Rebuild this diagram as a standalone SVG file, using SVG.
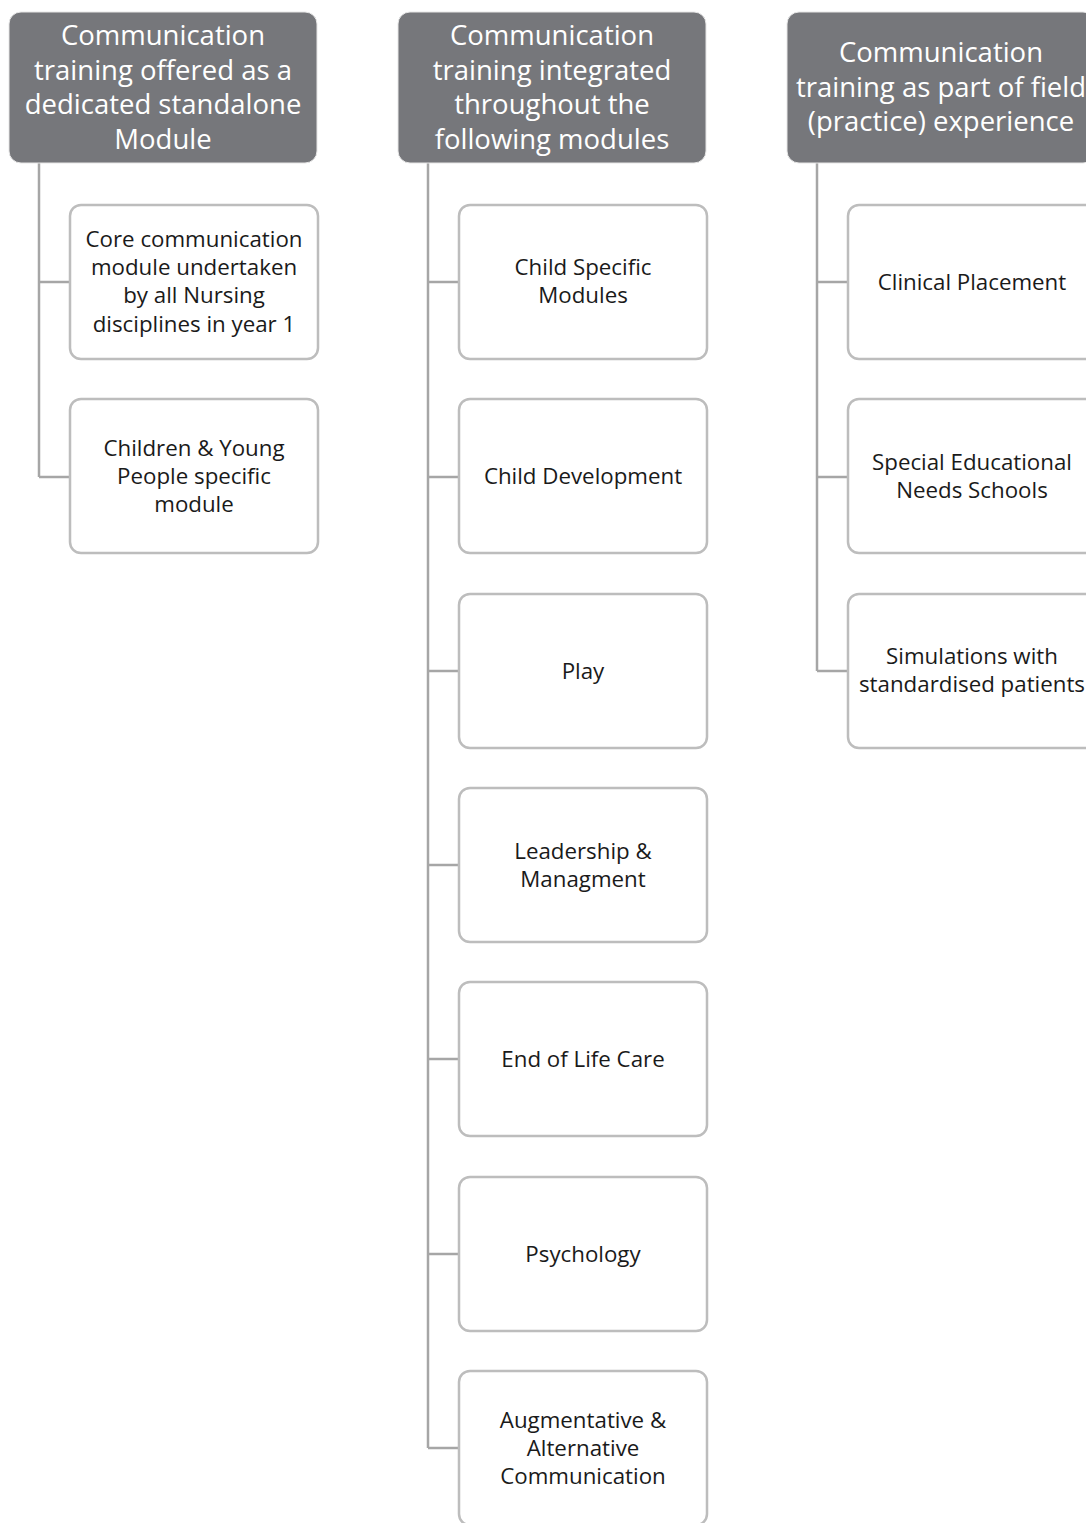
<svg xmlns="http://www.w3.org/2000/svg" width="1086" height="1523" viewBox="0 0 1086 1523">
<style>
.hdr{fill:#76777b;stroke:#e6e6e6;stroke-width:1}
.hdrt{fill:#ffffff;font-family:"Open Sans","Noto Sans",sans-serif;font-size:27.5px;text-anchor:middle}
.box{fill:#ffffff;stroke:#bdbdbd;stroke-width:2.5}
.boxt{fill:#1a1a1a;font-family:"Open Sans","Noto Sans",sans-serif;font-size:22.3px;text-anchor:middle}
.con{fill:none;stroke:#a6a6a6;stroke-width:2.5}
</style>
<rect width="1086" height="1523" fill="#ffffff"/>
<g id="connectors">
<path class="con" d="M39,163 V477 M39,282 H70 M39,477 H70"/>
<path class="con" d="M428,163 V1448 M428,282 H459 M428,477 H459 M428,671 H459 M428,865 H459 M428,1059 H459 M428,1254 H459 M428,1448 H459"/>
<path class="con" d="M817,163 V671 M817,282 H848 M817,477 H848 M817,671 H848"/>
</g>
<g id="h1"><rect class="hdr" x="9" y="12" width="308" height="151" rx="12"/>
<text class="hdrt" x="163"><tspan x="163" y="45">Communication</tspan><tspan x="163" y="80">training offered as a</tspan><tspan x="163" y="114">dedicated standalone</tspan><tspan x="163" y="149">Module</tspan></text></g>
<g id="h2"><rect class="hdr" x="398" y="12" width="308" height="151" rx="12"/>
<text class="hdrt" x="552"><tspan x="552" y="45">Communication</tspan><tspan x="552" y="80">training integrated</tspan><tspan x="552" y="114">throughout the</tspan><tspan x="552" y="149">following modules</tspan></text></g>
<g id="h3"><rect class="hdr" x="787" y="12" width="308" height="151" rx="12"/>
<text class="hdrt" x="941"><tspan x="941" y="62">Communication</tspan><tspan x="941" y="97">training as part of field</tspan><tspan x="941" y="131">(practice) experience</tspan></text></g>
<g id="c1a"><rect class="box" x="70" y="205" width="248" height="154" rx="11"/>
<text class="boxt"><tspan x="194" y="247">Core communication</tspan><tspan x="194" y="275">module undertaken</tspan><tspan x="194" y="303">by all Nursing</tspan><tspan x="194" y="332">disciplines in year 1</tspan></text></g>
<g id="c1b"><rect class="box" x="70" y="399" width="248" height="154" rx="11"/>
<text class="boxt"><tspan x="194" y="456">Children &amp; Young</tspan><tspan x="194" y="484">People specific</tspan><tspan x="194" y="512">module</tspan></text></g>
<g id="c2a"><rect class="box" x="459" y="205" width="248" height="154" rx="11"/>
<text class="boxt"><tspan x="583" y="275">Child Specific</tspan><tspan x="583" y="303">Modules</tspan></text></g>
<g id="c2b"><rect class="box" x="459" y="399" width="248" height="154" rx="11"/>
<text class="boxt"><tspan x="583" y="484">Child Development</tspan></text></g>
<g id="c2c"><rect class="box" x="459" y="594" width="248" height="154" rx="11"/>
<text class="boxt"><tspan x="583" y="679">Play</tspan></text></g>
<g id="c2d"><rect class="box" x="459" y="788" width="248" height="154" rx="11"/>
<text class="boxt"><tspan x="583" y="859">Leadership &amp;</tspan><tspan x="583" y="887">Managment</tspan></text></g>
<g id="c2e"><rect class="box" x="459" y="982" width="248" height="154" rx="11"/>
<text class="boxt"><tspan x="583" y="1067">End of Life Care</tspan></text></g>
<g id="c2f"><rect class="box" x="459" y="1177" width="248" height="154" rx="11"/>
<text class="boxt"><tspan x="583" y="1262">Psychology</tspan></text></g>
<g id="c2g"><rect class="box" x="459" y="1371" width="248" height="154" rx="11"/>
<text class="boxt"><tspan x="583" y="1428">Augmentative &amp;</tspan><tspan x="583" y="1456">Alternative</tspan><tspan x="583" y="1484">Communication</tspan></text></g>
<g id="c3a"><rect class="box" x="848" y="205" width="248" height="154" rx="11"/>
<text class="boxt"><tspan x="972" y="290">Clinical Placement</tspan></text></g>
<g id="c3b"><rect class="box" x="848" y="399" width="248" height="154" rx="11"/>
<text class="boxt"><tspan x="972" y="470">Special Educational</tspan><tspan x="972" y="498">Needs Schools</tspan></text></g>
<g id="c3c"><rect class="box" x="848" y="594" width="248" height="154" rx="11"/>
<text class="boxt"><tspan x="972" y="664">Simulations with</tspan><tspan x="972" y="692">standardised patients</tspan></text></g>
</svg>
